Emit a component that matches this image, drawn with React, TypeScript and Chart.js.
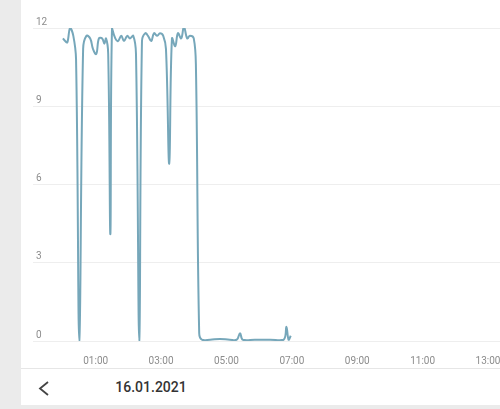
import React, { useEffect, useRef } from "react";
import { Chart, registerables } from "chart.js";

Chart.register(...registerables);

// time in minutes after 00:00
const times = [
  0, 4, 8, 13, 19, 24, 30, 37, 43, 50, 55, 61, 66, 72, 76, 79, 83, 87, 90, 96,
  101, 107, 112, 118, 123, 129, 134, 140, 145, 151, 156, 162, 167, 173, 178, 184,
  189, 195, 200, 206, 211, 217, 222, 228, 233, 240, 244, 250, 255, 270, 288, 306,
  319, 325, 330, 352, 380, 405, 410, 414, 418,
];
const values = [
  11.6, 11.5, 11.45, 12.0, 11.7, 10.8, 0, 11.2, 11.7, 11.6, 11.2, 11.0, 11.6, 11.6,
  11.4, 11.6, 11.0, 4.1, 12.0, 11.6, 11.5, 11.7, 11.5, 11.7, 11.6, 11.7, 11.0, 0,
  11.5, 11.8, 11.7, 11.5, 11.8, 11.7, 11.8, 11.7, 11.2, 6.8, 11.6, 11.3, 11.8, 11.6,
  12.05, 11.6, 11.7, 11.6, 10.5, 0.3, 0.05, 0.05, 0.08, 0.05, 0.05, 0.3, 0.05, 0.05,
  0.05, 0.05, 0.55, 0.05, 0.2,
];
const xTicks = [60, 180, 300, 420, 540, 660, 780];
const yTicks = [0, 3, 6, 9, 12];
const dateLabel = "16.01.2021";

const fmt = (m: number) => {
  const h = Math.floor(m / 60);
  return (h < 10 ? "0" : "") + h + ":00";
};

export default function App() {
  const ref = useRef<HTMLCanvasElement | null>(null);
  useEffect(() => {
    if (!ref.current) return;
    const chart = new Chart(ref.current, {
      type: "line",
      data: {
        datasets: [
          {
            data: times.map((t, i) => ({ x: t, y: values[i] })),
            borderColor: "#76a7ba",
            borderWidth: 2,
            pointRadius: 0,
            tension: 0.4,
            fill: false,
          },
        ],
      },
      options: {
        animation: false,
        responsive: false,
        maintainAspectRatio: false,
        layout: { padding: { top: 28, left: 12, right: 0, bottom: 0 } },
        plugins: { legend: { display: false }, tooltip: { enabled: false } },
        scales: {
          x: {
            type: "linear",
            min: -55,
            max: 802,
            grid: { display: false },
            border: { display: false },
            afterBuildTicks: (s: any) => {
              s.ticks = xTicks.map((v) => ({ value: v }));
            },
            afterFit: (s: any) => {
              s.height = 27;
              s.paddingLeft = 0;
              s.paddingRight = 0;
            },
            ticks: {
              autoSkip: false,
              maxRotation: 0,
              padding: 6,
              color: "#8c8c8c",
              font: { family: "Roboto", size: 10 },
              callback: (v: any) => fmt(Number(v)),
            },
          },
          y: {
            min: 0,
            max: 12,
            grid: { color: "#eeeeee", drawTicks: false },
            border: { display: false },
            afterBuildTicks: (s: any) => {
              s.ticks = yTicks.map((v) => ({ value: v }));
            },
            afterFit: (s: any) => {
              s.width = 0;
            },
            ticks: {
              mirror: true,
              padding: 3,
              labelOffset: -6,
              color: "#8c8c8c",
              font: { family: "Roboto", size: 10 },
            },
          },
        },
      },
    });
    return () => chart.destroy();
  }, []);

  return (
    <div
      style={{
        position: "fixed",
        left: 0,
        top: 0,
        width: 500,
        height: 409,
        background: "#ebebeb",
        overflow: "hidden",
        fontFamily: "Roboto",
      }}
    >
      <div
        style={{
          position: "absolute",
          left: 21,
          top: 0,
          width: 479,
          height: 405,
          background: "#ffffff",
        }}
      >
        <canvas ref={ref} width={479} height={368} style={{ display: "block" }} />
        <div
          style={{
            position: "absolute",
            left: 0,
            top: 368,
            width: 479,
            height: 1,
            background: "#e6e6e6",
          }}
        />
        <svg
          style={{ position: "absolute", left: 0, top: 368 }}
          width={60}
          height={37}
        >
          <polyline
            points="27,14 19,20.5 27,27"
            fill="none"
            stroke="#444"
            strokeWidth={1.8}
          />
        </svg>
        <div
          style={{
            position: "absolute",
            left: 80,
            top: 377,
            width: 100,
            textAlign: "center",
            fontSize: 14,
            fontWeight: 500,
            color: "#333",
            lineHeight: "20px",
          }}
        >
          {dateLabel}
        </div>
      </div>
    </div>
  );
}
